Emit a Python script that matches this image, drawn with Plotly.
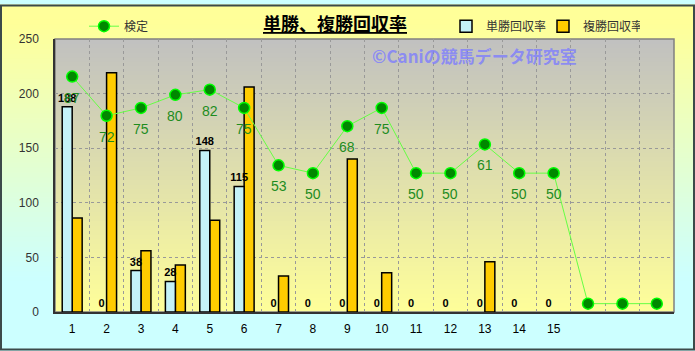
import plotly.graph_objects as go

# ---------------- data ----------------
categories = list(range(1, 19))
tick_labels = [str(i) for i in range(1, 16)]
win_return = [188, 0, 38, 28, 148, 115, 0, 0, 0, 0, 0, 0, 0, 0, 0]
place_return = [86, 219, 56, 43, 84, 206, 33, 0, 140, 36, 0, 0, 46, 0, 0]
kentei = [87, 72, 75, 80, 82, 75, 53, 50, 68, 75, 50, 50, 61, 50, 50, 0, 0, 0]
kentei_labels = [str(v) for v in kentei[:15]] + ["", "", ""]

# ---------------- geometry helpers ----------------
W, H = 695, 351
L, R, T, B = 55, 21, 35, 39
PW, PH = W - L - R, H - T - B
BAR_W = 0.29


def px(x):
    return (x - L) / PW


def py(y):
    return 1 - (y - T) / PH


def mix(c1, c2, t):
    t = max(0.0, min(1.0, t))
    return "rgb(%d,%d,%d)" % tuple(round(a + (b - a) * t) for a, b in zip(c1, c2))


shapes = []
# paper gradient (yellow -> cyan)
n = 70
for i in range(n):
    y0 = H * i / n
    y1 = H * (i + 1) / n + 0.8
    t = ((y0 + y1) / 2 - 20) / 260
    shapes.append(dict(type="rect", xref="paper", yref="paper", layer="below",
                       x0=px(0), x1=px(W), y0=py(y1), y1=py(y0),
                       fillcolor=mix((255, 255, 153), (204, 255, 255), t),
                       line=dict(width=0)))
# plot-area gradient (gray -> yellow)
n = 60
for i in range(n):
    y0 = T + PH * i / n
    y1 = T + PH * (i + 1) / n + 0.8
    if y1 > T + PH:
        y1 = T + PH
    t = (i + 0.5) / n
    shapes.append(dict(type="rect", xref="paper", yref="paper", layer="below",
                       x0=0, x1=1, y0=py(y1), y1=py(y0),
                       fillcolor=mix((192, 192, 192), (255, 255, 153), t),
                       line=dict(width=0)))
# plot border
shapes.append(dict(type="rect", xref="paper", yref="paper", layer="below",
                   x0=0, x1=1, y0=0, y1=1, line=dict(color="#808080", width=1.5)))
# outer frame
shapes.append(dict(type="rect", xref="paper", yref="paper", layer="above",
                   x0=px(1), x1=px(W - 1), y0=py(H - 1), y1=py(1),
                   line=dict(color="#3C4A4A", width=2)))

fig = go.Figure()

# gold drawn first so the light-blue bars and their labels sit on top
fig.add_trace(go.Bar(
    x=categories[:len(place_return)], y=place_return, name="複勝回収率",
    width=BAR_W, offset=0,
    marker=dict(color="#FFCC00",
                line=dict(color="#000000", width=[1.5 if v else 0 for v in place_return])),
    legend="legend2", legendrank=2,
))
fig.add_trace(go.Bar(
    x=categories[:len(win_return)], y=win_return, name="単勝回収率",
    width=BAR_W, offset=-BAR_W,
    marker=dict(color="#C4F2F8",
                line=dict(color="#000000", width=[1.5 if v else 0 for v in win_return])),
    text=[str(v) for v in win_return], textposition="outside", constraintext="none",
    textfont=dict(size=11, color="#000000", family="Liberation Sans", weight="bold"),
    cliponaxis=False, legend="legend2", legendrank=1,
))
fig.add_trace(go.Scatter(
    x=categories, y=kentei, name="検定", yaxis="y2",
    mode="lines+markers",
    line=dict(color="#66FF44", width=1),
    marker=dict(size=11, color="#008800", line=dict(color="#00FF00", width=1.5)),
    cliponaxis=False, legend="legend", showlegend=True,
))

annotations = [
    dict(text="<b><u>単勝、複勝回収率</u></b>", xref="paper", yref="paper",
         x=px(335), y=py(19), xanchor="center", yanchor="middle", showarrow=False,
         font=dict(size=18, color="#000000", family="Noto Sans CJK JP")),
    dict(text="©Caniの競馬データ研究室", xref="paper", yref="paper",
         x=px(474), y=py(52), xanchor="center", yanchor="middle", showarrow=False,
         font=dict(size=17, color="rgba(125,125,255,0.8)", family="Noto Sans CJK JP",
                   weight="bold")),
]
for c, v, lab in zip(categories, kentei, kentei_labels):
    if lab:
        annotations.append(dict(text=lab, xref="x", yref="y2", x=c, y=v, yshift=-21,
                                showarrow=False, xanchor="center", yanchor="middle",
                                font=dict(size=14, color="#1E8C1E", family="Liberation Sans")))

fig.update_layout(
    width=W, height=H,
    margin=dict(l=L, r=R, t=T, b=B),
    paper_bgcolor="#CCFFFF",
    plot_bgcolor="rgba(0,0,0,0)",
    showlegend=True,
    font=dict(family="Liberation Sans, Noto Sans CJK JP, sans-serif", color="#333333"),
    barmode="overlay",
    shapes=shapes,
    annotations=annotations,
    xaxis=dict(
        range=[0.5, 18.5], tickmode="array", tickvals=categories[:len(tick_labels)],
        ticktext=tick_labels, showgrid=False, zeroline=False,
        showline=True, linecolor="#333333", linewidth=1.5, ticks="",
        tickfont=dict(size=12, color="#000000"), ticklabelstandoff=5,
        minor=dict(tickmode="array", tickvals=[c + 0.5 for c in categories[:-1]],
                   showgrid=True, gridcolor="#999999", griddash="dot", gridwidth=1, ticks=""),
    ),
    yaxis=dict(
        range=[0, 250], dtick=50, showgrid=True, gridcolor="#999999", griddash="dot",
        gridwidth=1, zeroline=False, showline=True, linecolor="#333333", linewidth=1.5,
        ticks="", tickfont=dict(size=12, color="#333333"), ticklabelstandoff=12,
    ),
    yaxis2=dict(range=[-3.2, 101.4], overlaying="y", visible=False, showgrid=False),
    legend=dict(x=px(84), y=py(22), xanchor="left", yanchor="middle", visible=True,
                orientation="h", bgcolor="rgba(0,0,0,0)", itemwidth=30,
                font=dict(size=12, color="#333333", family="Noto Sans CJK JP")),
    legend2=dict(x=px(446), y=py(22), xanchor="left", yanchor="middle", visible=True,
                 orientation="h", bgcolor="rgba(0,0,0,0)", traceorder="normal",
                 itemwidth=30, entrywidth=52,
                 font=dict(size=12, color="#333333", family="Noto Sans CJK JP")),
)

fig.write_html("out.html")
